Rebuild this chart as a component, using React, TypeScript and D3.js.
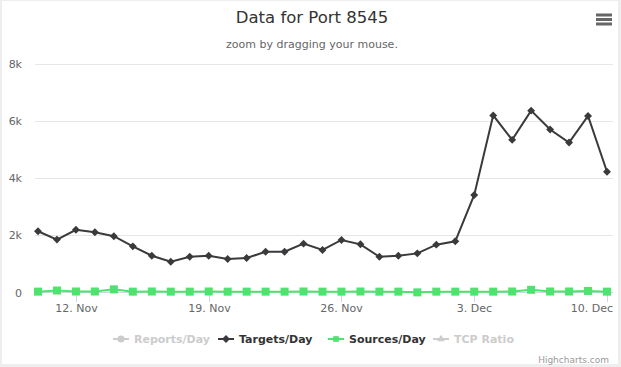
import React, { useRef, useEffect } from 'react'
import * as d3 from 'd3'

// daily values, 10 Nov .. 10 Dec
const startDate = new Date(2017, 10, 10)
const targetsPerDay = [
    2145, 1852, 2194, 2110, 1970, 1616, 1287, 1076, 1252, 1287, 1171, 1206, 1428, 1428, 1711, 1488,
    1840, 1687, 1252, 1287, 1370, 1675, 1793, 3415, 6201, 5344, 6367, 5708, 5249, 6180, 4226
]
const sourcesPerDay = [
    30, 70, 35, 35, 110, 30, 35, 30, 30, 35, 30, 30, 30, 30, 35, 30,
    30, 35, 30, 30, 5, 30, 30, 30, 30, 35, 95, 35, 35, 55, 30
]
const yTicks = [0, 2000, 4000, 6000, 8000]
const xTickDays = [2, 9, 16, 23, 30]

const legendItems = [
    { label: 'Reports/Day', color: '#cccccc', symbol: 'circle', visible: false },
    { label: 'Targets/Day', color: '#3a3a3d', symbol: 'diamond', visible: true },
    { label: 'Sources/Day', color: '#4ee26e', symbol: 'square', visible: true },
    { label: 'TCP Ratio', color: '#cccccc', symbol: 'triangle', visible: false }
]

const FONT = '"DejaVu Sans", Verdana, sans-serif'

const App = () => {
    const ref = useRef(null)

    useEffect(() => {
        const svg = d3.select(ref.current)
        svg.selectAll('*').remove()

        const W = 621, H = 367
        const day = (i) => d3.timeDay.offset(startDate, i)
        const x = d3.scaleTime().domain([day(0), day(30)]).range([38, 607])
        const y = d3.scaleLinear().domain([0, 8000]).range([292.5, 64])

        // frame
        svg.append('rect').attr('width', W).attr('height', H).attr('fill', '#eeeeee')
        svg.append('rect').attr('x', 2).attr('y', 1).attr('width', W - 5).attr('height', H - 4).attr('fill', '#fff')

        svg.append('text').attr('x', 312).attr('y', 23).attr('text-anchor', 'middle')
            .attr('font-family', FONT).attr('font-size', 16.5).attr('fill', '#333')
            .text('Data for Port 8545')
        svg.append('text').attr('x', 312).attr('y', 48).attr('text-anchor', 'middle')
            .attr('font-family', FONT).attr('font-size', 11).attr('fill', '#666')
            .text('zoom by dragging your mouse.')

        // menu button
        ;[15, 19.5, 24].forEach(cy => {
            svg.append('rect').attr('x', 596).attr('y', cy - 1.5).attr('width', 16).attr('height', 3)
                .attr('fill', '#666')
        })

        // grid + y labels
        yTicks.forEach(t => {
            if (t > 0) {
                svg.append('line').attr('x1', 35).attr('x2', 613)
                    .attr('y1', Math.round(y(t)) + 0.5).attr('y2', Math.round(y(t)) + 0.5)
                    .attr('stroke', '#e6e6e6')
            }
            svg.append('text').attr('x', 22).attr('y', y(t) + 4).attr('text-anchor', 'end')
                .attr('font-family', FONT).attr('font-size', 11).attr('fill', '#666')
                .text(t === 0 ? '0' : t / 1000 + 'k')
        })

        // x axis
        svg.append('line').attr('x1', 35).attr('x2', 613).attr('y1', 292.5).attr('y2', 292.5)
            .attr('stroke', '#ccd6eb')
        xTickDays.forEach((i, k) => {
            const px = Math.round(x(day(i))) + 0.5
            const last = k === xTickDays.length - 1
            svg.append('line').attr('x1', px).attr('x2', px).attr('y1', 292.5).attr('y2', 302)
                .attr('stroke', '#ccd6eb')
            svg.append('text').attr('x', last ? 613 : px).attr('y', 312)
                .attr('text-anchor', last ? 'end' : 'middle')
                .attr('font-family', FONT).attr('font-size', 11).attr('fill', '#666')
                .text(d3.timeFormat('%-d. %b')(day(i)))
        })

        const line = d3.line().x((d, i) => x(day(i))).y(d => y(d))

        // sources
        svg.append('path').datum(sourcesPerDay).attr('d', line)
            .attr('fill', 'none').attr('stroke', legendItems[2].color).attr('stroke-width', 2)
        svg.selectAll('.src').data(sourcesPerDay).enter().append('rect')
            .attr('x', (d, i) => x(day(i)) - 4).attr('y', d => y(d) - 4)
            .attr('width', 8).attr('height', 8).attr('fill', legendItems[2].color)

        // targets
        svg.append('path').datum(targetsPerDay).attr('d', line)
            .attr('fill', 'none').attr('stroke', legendItems[1].color).attr('stroke-width', 2)
        const diamond = d3.symbol().type(d3.symbolDiamond2).size(40)
        svg.selectAll('.tgt').data(targetsPerDay).enter().append('path')
            .attr('d', diamond)
            .attr('transform', (d, i) => `translate(${x(day(i))},${y(d)})`)
            .attr('fill', legendItems[1].color)

        // legend
        const legendX = [113, 218, 328, 433]
        const symbols = {
            circle: d3.symbolCircle, diamond: d3.symbolDiamond2,
            square: d3.symbolSquare2, triangle: d3.symbolTriangle2
        }
        legendItems.forEach((item, i) => {
            const g = svg.append('g').attr('transform', `translate(${legendX[i]},339)`)
            g.append('line').attr('x1', 0).attr('x2', 16).attr('stroke', item.color).attr('stroke-width', 2)
            g.append('path').attr('transform', 'translate(8,0)')
                .attr('d', d3.symbol().type(symbols[item.symbol]).size(40)).attr('fill', item.color)
            g.append('text').attr('x', 21).attr('y', 4)
                .attr('font-family', FONT).attr('font-size', 11).attr('font-weight', 'bold')
                .attr('fill', item.visible ? '#333' : '#cccccc')
                .text(item.label)
        })

        svg.append('text').attr('x', 609).attr('y', 363).attr('text-anchor', 'end')
            .attr('font-family', FONT).attr('font-size', 9).attr('fill', '#999')
            .text('Highcharts.com')
    }, [])

    return <svg ref={ref} width={621} height={367} style={{ position: 'absolute', left: 0, top: 0 }}></svg>
}

export default App
